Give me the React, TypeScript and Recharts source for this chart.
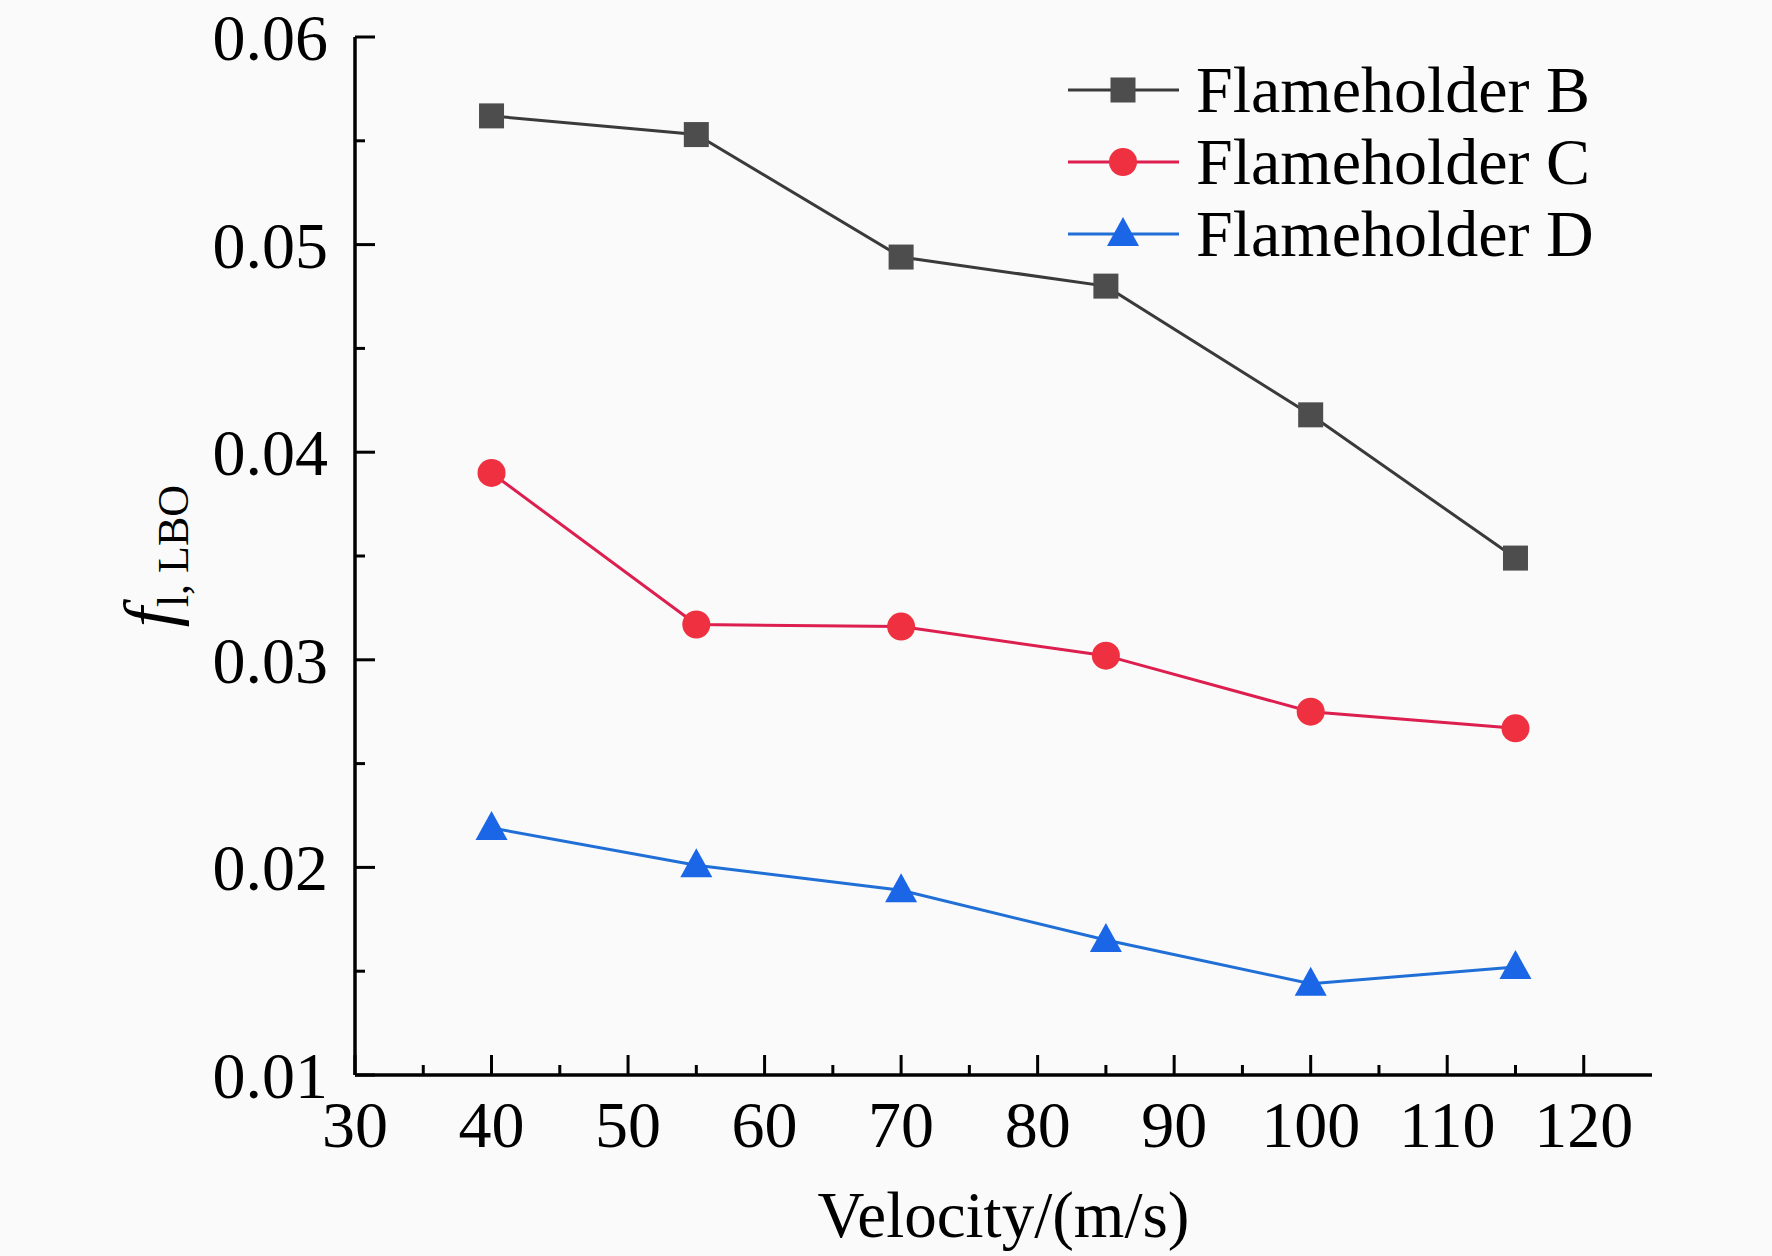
import { LineChart, Line, XAxis, YAxis, Legend } from "recharts";

// velocity (m/s) and lean blowout fuel/air ratio per flameholder
const velocities = [40, 55, 70, 85, 100, 115];
const holderB = [0.0562, 0.0553, 0.0494, 0.048, 0.0418, 0.0349];
const holderC = [0.039, 0.0317, 0.0316, 0.0302, 0.0275, 0.0267];
const holderD = [0.0219, 0.0201, 0.0189, 0.0165, 0.0144, 0.0152];

const xTicks = [30, 35, 40, 45, 50, 55, 60, 65, 70, 75, 80, 85, 90, 95, 100, 105, 110, 115, 120];
const yTicks = [0.01, 0.015, 0.02, 0.025, 0.03, 0.035, 0.04, 0.045, 0.05, 0.055, 0.06];

const SERIES = [
  { key: "B", name: "Flameholder B", line: "#3a3a3a", fill: "#4d4d4d", shape: "square" },
  { key: "C", name: "Flameholder C", line: "#dc1f4f", fill: "#ee3040", shape: "circle" },
  { key: "D", name: "Flameholder D", line: "#1f6fd6", fill: "#1a66e6", shape: "triangle" },
];

const rows = velocities.map((v, i) => ({ v, B: holderB[i], C: holderC[i], D: holderD[i] }));

const FONT = '"Liberation Serif", "Times New Roman", serif';

function Marker({ shape, cx, cy, fill }: { shape: string; cx?: number; cy?: number; fill: string }) {
  if (cx == null || cy == null) return null;
  if (shape === "square") return <rect x={cx - 12.5} y={cy - 12.5} width={25} height={25} fill={fill} />;
  if (shape === "circle") return <circle cx={cx} cy={cy} r={14} fill={fill} />;
  return <polygon points={`${cx},${cy - 17} ${cx + 16},${cy + 12} ${cx - 16},${cy + 12}`} fill={fill} />;
}

const XTick = ({ x, y, payload }: any) => {
  const v = payload.value;
  const major = v % 10 === 0;
  return (
    <g>
      <line x1={x} x2={x} y1={y} y2={y - (major ? 20 : 10)} stroke="#000" strokeWidth={3} />
      {major && (
        <text x={x} y={y + 72} textAnchor="middle" fontFamily={FONT} fontSize={66} fill="#000">
          {v}
        </text>
      )}
    </g>
  );
};

const YTick = ({ x, y, payload }: any) => {
  const v = payload.value;
  const major = Math.round(v * 1000) % 10 === 0;
  return (
    <g>
      <line x1={x} x2={x + (major ? 20 : 10)} y1={y} y2={y} stroke="#000" strokeWidth={3} />
      {major && (
        <text x={x - 27} y={y + 23} textAnchor="end" fontFamily={FONT} fontSize={66} fill="#000">
          {v.toFixed(2)}
        </text>
      )}
    </g>
  );
};

const YLabel = () => {
  const cx = 174;
  const cy = 556;
  return (
    <text
      x={cx}
      y={cy}
      transform={`rotate(-90 ${cx} ${cy})`}
      textAnchor="middle"
      fontFamily={FONT}
      fill="#000"
    >
      <tspan fontSize={72} fontStyle="italic">f</tspan>
      <tspan fontSize={44} dy={14}>l, LBO</tspan>
    </text>
  );
};

const XLabel = () => (
  <text x={1003.5} y={1237} textAnchor="middle" fontFamily={FONT} fontSize={65} fill="#000">
    Velocity/(m/s)
  </text>
);

const LegendBox = () => (
  <div style={{ fontFamily: FONT, fontSize: 66, lineHeight: "72px", color: "#000" }}>
    {SERIES.map((s) => (
      <div key={s.key} style={{ display: "flex", alignItems: "center", height: 72 }}>
        <svg width={128} height={72} style={{ flex: "none" }}>
          <line x1={0} x2={111} y1={36} y2={36} stroke={s.line} strokeWidth={3} />
          <Marker shape={s.shape} cx={55} cy={36} fill={s.fill} />
        </svg>
        <span style={{ whiteSpace: "nowrap" }}>{s.name}</span>
      </div>
    ))}
  </div>
);

export default function App() {
  return (
    <div style={{ position: "absolute", left: 0, top: 0, width: 1772, height: 1256, background: "#fafafa" }}>
      <LineChart width={1772} height={1256} data={rows} margin={{ top: 37, right: 120, bottom: 0, left: 0 }}>
        <XAxis
          dataKey="v"
          type="number"
          domain={[30, 125]}
          ticks={xTicks}
          interval={0}
          height={181}
          tickSize={0}
          tickMargin={0}
          tickLine={false}
          tick={<XTick />}
          axisLine={{ stroke: "#000", strokeWidth: 3.5 }}
          label={{ content: () => <XLabel /> }}
        />
        <XAxis
          xAxisId="top"
          orientation="top"
          dataKey="v"
          type="number"
          domain={[30, 125]}
          height={0}
          tick={false}
          tickLine={false}
          axisLine={{ stroke: "#000", strokeWidth: 3.5 }}
        />
        <YAxis
          type="number"
          domain={[0.01, 0.06]}
          ticks={yTicks}
          interval={0}
          width={355}
          tickSize={0}
          tickMargin={0}
          tickLine={false}
          tick={<YTick />}
          axisLine={{ stroke: "#000", strokeWidth: 3.5 }}
          label={{ content: () => <YLabel /> }}
        />
        <YAxis
          yAxisId="right"
          orientation="right"
          type="number"
          domain={[0.01, 0.06]}
          width={0}
          tick={false}
          tickLine={false}
          axisLine={{ stroke: "#000", strokeWidth: 3.5 }}
        />
        <Legend
          layout="vertical"
          align="center"
          verticalAlign="middle"
          wrapperStyle={{ left: 1068, top: 54, width: "auto" }}
          content={() => <LegendBox />}
        />
        {SERIES.map((s) => (
          <Line
            key={s.key}
            dataKey={s.key}
            name={s.name}
            stroke={s.line}
            strokeWidth={3}
            isAnimationActive={false}
            activeDot={false}
            dot={(p: any) => <Marker key={`${s.key}-${p.index}`} shape={s.shape} cx={p.cx} cy={p.cy} fill={s.fill} />}
          />
        ))}
      </LineChart>
    </div>
  );
}
